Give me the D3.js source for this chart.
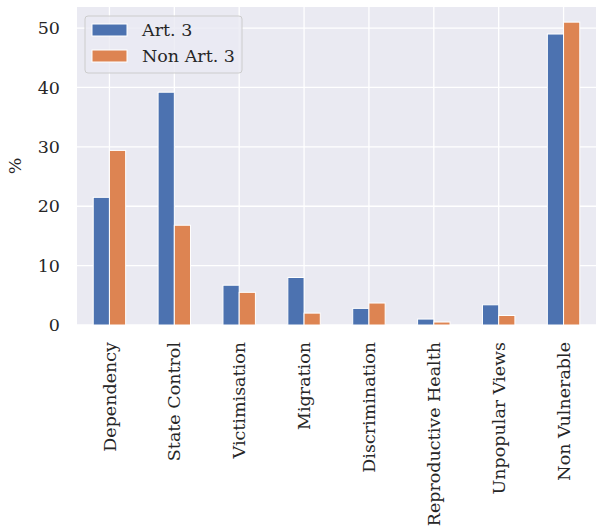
<!DOCTYPE html>
<html>
<head>
<meta charset="utf-8">
<script src="https://cdn.jsdelivr.net/npm/d3@7"></script>
<style>
  body { margin: 0; background: #fff; }
  text { font-family: "DejaVu Serif", serif; fill: #262626; }
</style>
</head>
<body>
<div id="chart"></div>
<script>
const categories = ["Dependency", "State Control", "Victimisation", "Migration",
  "Discrimination", "Reproductive Health", "Unpopular Views", "Non Vulnerable"]
const seriesNames = ["Art. 3", "Non Art. 3"]
const art3 = [21.5, 39.2, 6.7, 8.0, 2.8, 1.0, 3.4, 49.0]
const nonArt3 = [29.4, 16.8, 5.5, 2.0, 3.7, 0.5, 1.6, 51.0]
const yTicks = [0, 10, 20, 30, 40, 50]

const colors = ["#4c72b0", "#dd8452"]
const fontSize = "17.5px"

let margin = {top: 7, right: 0, bottom: 202, left: 77}
let width = 596 - margin.left - margin.right
let height = 527 - margin.top - margin.bottom

let svg = d3.select("#chart")
    .append("svg")
    .attr("width", 596)
    .attr("height", 527)
    .append("g")
    .attr("transform", "translate(" + margin.left + "," + margin.top + ")")

let xScale = d3.scaleBand()
    .domain(categories)
    .range([0, width])

let xSub = d3.scaleBand()
    .domain(seriesNames)
    .range([xScale.bandwidth() * 0.25, xScale.bandwidth() * 0.75])

let yScale = d3.scaleLinear()
    .domain([0, 53.55])
    .range([height, 0])

// background
svg.append("rect")
    .attr("width", width)
    .attr("height", height)
    .attr("fill", "#eaeaf2")

// grid
svg.selectAll(".hgrid")
    .data(yTicks)
    .enter().append("line")
    .attr("x1", 0).attr("x2", width)
    .attr("y1", d => yScale(d)).attr("y2", d => yScale(d))
    .attr("stroke", "#fff").attr("stroke-width", 1.3)

svg.selectAll(".vgrid")
    .data(categories)
    .enter().append("line")
    .attr("y1", 0).attr("y2", height)
    .attr("x1", d => xScale(d) + xScale.bandwidth() / 2)
    .attr("x2", d => xScale(d) + xScale.bandwidth() / 2)
    .attr("stroke", "#fff").attr("stroke-width", 1.3)

// bars
let series = [art3, nonArt3]
series.forEach(function (vals, i) {
    svg.selectAll(".bar" + i)
        .data(categories)
        .enter().append("rect")
        .attr("x", d => xScale(d) + xSub(seriesNames[i]))
        .attr("width", xSub.bandwidth())
        .attr("y", (d, j) => yScale(vals[j]))
        .attr("height", (d, j) => height - yScale(vals[j]))
        .attr("fill", colors[i])
        .attr("stroke", "#fff")
        .attr("stroke-width", 1)
})

// axes
let yAxis = svg.append("g")
    .call(d3.axisLeft(yScale).tickValues(yTicks).tickSize(0).tickPadding(17))
yAxis.select(".domain").remove()
yAxis.selectAll("text").style("font-size", fontSize).style("fill", "#262626")

let xAxis = svg.append("g")
    .attr("transform", "translate(0," + height + ")")
    .call(d3.axisBottom(xScale).tickSize(0))
xAxis.select(".domain").remove()
xAxis.selectAll("text")
    .style("font-size", fontSize)
    .style("fill", "#262626")
    .attr("text-anchor", "end")
    .attr("dx", 0)
    .attr("dy", "0.35em")
    .attr("transform", "translate(0,17) rotate(-90)")
    .attr("x", 0).attr("y", 0)

svg.append("text")
    .attr("transform", "translate(-56," + (height / 2) + ") rotate(-90)")
    .attr("text-anchor", "middle")
    .style("font-size", fontSize)
    .text("%")

// legend
let legend = svg.append("g").attr("transform", "translate(8,9)")
legend.append("rect")
    .attr("width", 157).attr("height", 57)
    .attr("rx", 3)
    .attr("fill", "#eaeaf2").attr("fill-opacity", 0.8)
    .attr("stroke", "#cccccc")
seriesNames.forEach(function (name, i) {
    legend.append("rect")
        .attr("x", 7).attr("y", 8 + i * 26)
        .attr("width", 35).attr("height", 12)
        .attr("fill", colors[i])
        .attr("stroke", "#fff").attr("stroke-width", 1)
    legend.append("text")
        .attr("x", 57).attr("y", 14 + i * 26)
        .attr("dy", "0.35em")
        .style("font-size", fontSize)
        .text(name)
})
</script>
</body>
</html>
